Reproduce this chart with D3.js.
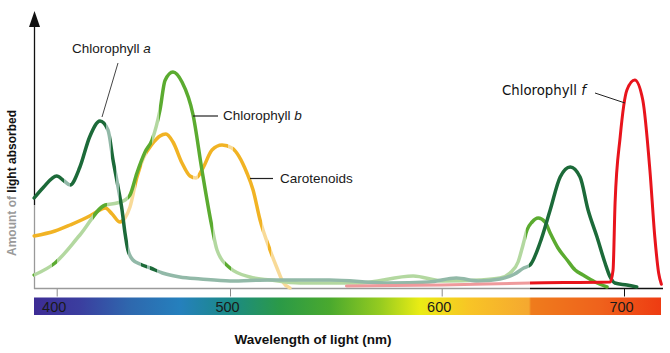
<!DOCTYPE html>
<html>
<head>
<meta charset="utf-8">
<script src="https://cdn.jsdelivr.net/npm/d3@7"></script>
<style>
  body { margin: 0; background: #fff; }
  svg { display: block; font-family: "Liberation Sans", Arial, sans-serif; }
</style>
</head>
<body>
<div id="chart"></div>
<script>
// absorbance curves: [wavelength nm, relative absorbance]
const chlA = [
  [387, 36], [392, 40], [400, 44.8], [404, 43], [407.7, 41.2], [413.4, 48.4], [419, 60.4],
  [425, 66.8], [429.6, 63.2], [432.5, 51.2], [435.4, 40.4], [437.7, 31.2], [439.4, 22],
  [441.1, 15.2], [444, 11.2], [448, 9.6], [454, 8], [461, 6], [471, 4.4], [483, 3.6],
  [500, 2.8], [519, 3.2], [547, 3.2], [575, 2], [594, 2.4], [608, 4], [620, 2.8], [632, 3.6],
  [640, 5.6], [645, 8], [648.5, 9.2], [653.9, 18], [659.5, 31.2], [665, 44.4], [670.5, 48.4],
  [675.9, 44.4], [680.3, 31.2], [685.2, 20.4], [689.6, 10], [692.4, 4.4], [695, 2],
  [701.6, 1.2], [707, 0.4]
];
const chlB = [
  [387, 5.2], [399, 10], [413.4, 21.2], [428, 33.2], [434.8, 34], [439.4, 35.2], [442.3, 37.2],
  [446.3, 46], [451, 54.4], [455, 59.2], [459.6, 71.2], [462.5, 83], [467.1, 86.4],
  [472.3, 82.4], [478.7, 69.2], [483.8, 47.2], [489.6, 24.4], [492.5, 15.2], [500, 8],
  [509.4, 4.4], [519, 3.2], [533, 2], [561, 2], [586.5, 4.8], [600.7, 2.8], [621, 3.2],
  [632, 4], [637.5, 6], [641.9, 10.4], [644.6, 17.2], [646.8, 23.2], [649.6, 26.4],
  [652.9, 28], [656.7, 26.4], [659.5, 22], [663.8, 16], [668.8, 11.2], [673.2, 7.2],
  [677.5, 5.2], [684.1, 2.4], [690.7, 0.4]
];
const carotenoids = [
  [387, 20.8], [399, 22.8], [407.7, 25.2], [419, 28.8], [425, 31.2], [428, 32], [432, 29.6],
  [436.5, 26.4], [439.4, 28], [442.3, 32.4], [446.3, 44.4], [450, 52], [455, 57.5],
  [459.6, 60.8], [463, 61.6], [467.1, 58.4], [472.3, 50], [476.9, 44.8], [480.4, 44],
  [484.4, 48], [489.6, 55.2], [495.4, 57.2], [500.9, 56], [508, 46], [510.9, 39.2],
  [514.2, 27.2], [518.9, 15.2], [522.2, 8], [525, 2.4], [528.3, 0]
];
const chlF = [
  [555, 0.8], [600, 1.2], [648.5, 2], [692.4, 2.4], [694, 7.2], [695.1, 34], [697.9, 60.4],
  [701.6, 79.2], [705.9, 83.2], [710.3, 75.2], [714.2, 47.2], [716.9, 20.4], [719, 6],
  [720.5, 1.5]
];
const tickValues = [400, 500, 600, 700];

const width = 670, height = 353;

const svg = d3.select("#chart").append("svg")
  .attr("width", width).attr("height", height);
const defs = svg.append("defs");

// the printed wavelength axis is not evenly spaced, so use a piecewise scale
const x = d3.scaleLinear()
  .domain(tickValues)
  .range([56.7, 230, 441.7, 624]);
const y = d3.scaleLinear()
  .domain([0, 100])
  .range([288, 38]);

// spectrum bar
const spectrum = [
  [34, "#3d2c95"], [80, "#3b3e9f"], [130, "#2e68ae"], [180, "#2580bd"], [230, "#1b8a86"],
  [280, "#2b9a47"], [330, "#4aa92e"], [380, "#95cb20"], [420, "#eaec14"], [470, "#f8c426"],
  [529, "#f5a830"], [531, "#ef7c1c"], [600, "#ef621c"], [661, "#ee3c12"]
];
const sg = defs.append("linearGradient").attr("id", "spec")
  .attr("gradientUnits", "userSpaceOnUse")
  .attr("x1", 34).attr("x2", 661).attr("y1", 0).attr("y2", 0);
sg.selectAll("stop").data(spectrum).join("stop")
  .attr("offset", d => (d[0] - 34) / (661 - 34))
  .attr("stop-color", d => d[1]);
svg.append("rect")
  .attr("x", 34).attr("y", 297.5).attr("width", 627).attr("height", 17.5)
  .attr("fill", "url(#spec)");

// axes
svg.append("g")
  .attr("transform", "translate(0,288.5)")
  .call(d3.axisBottom(x).tickValues(tickValues).tickSize(8).tickPadding(5))
  .call(g => g.select(".domain").remove())
  .call(g => g.selectAll(".tick line").attr("stroke", d => d < 650 ? "#8a8a8a" : "#111"))
  .call(g => g.selectAll(".tick text")
    .attr("dx", -3)
    .attr("fill", "#1a1a1a")
    .style("font-size", "14.5px")
    .style("font-family", "'Liberation Sans', Arial, sans-serif"));

svg.append("line").attr("x1", 34).attr("x2", 530).attr("y1", 288.5).attr("y2", 288.5)
  .attr("stroke", "#9a9a9a").attr("stroke-width", 1.3);
svg.append("line").attr("x1", 530).attr("x2", 663).attr("y1", 288.5).attr("y2", 288.5)
  .attr("stroke", "#111").attr("stroke-width", 1.3);
svg.append("line").attr("x1", 34.5).attr("x2", 34.5).attr("y1", 24).attr("y2", 205)
  .attr("stroke", "#111").attr("stroke-width", 1.3);
svg.append("line").attr("x1", 34.5).attr("x2", 34.5).attr("y1", 205).attr("y2", 289)
  .attr("stroke", "#999").attr("stroke-width", 1.3);
svg.append("path").attr("d", "M34.5,11 L29,27 L40,27 Z").attr("fill", "#111");

// faded stretches of each curve, given as wavelength ranges
function strokeGradient(id, base, light, ranges) {
  let stops = [[0, base]];
  ranges.forEach(([a, b]) => {
    stops.push([x(a) / width, base], [x(a) / width, light], [x(b) / width, light], [x(b) / width, base]);
  });
  stops.push([1, base]);
  defs.append("linearGradient").attr("id", id)
    .attr("gradientUnits", "userSpaceOnUse")
    .attr("x1", 0).attr("x2", width).attr("y1", 0).attr("y2", 0)
    .selectAll("stop").data(stops).join("stop")
    .attr("offset", d => d[0])
    .attr("stop-color", d => d[1]);
  return `url(#${id})`;
}

const line = d3.line()
  .x(d => x(d[0]))
  .y(d => y(d[1]))
  .curve(d3.curveMonotoneX);

const series = [
  { data: carotenoids, stroke: strokeGradient("gc", "#f1b324", "#f8da98",
      [[439, 446], [449, 452], [478.5, 481.5], [499, 501.5], [515, 518], [519.5, 535]]), w: 3.5 },
  { data: chlB, stroke: strokeGradient("gb", "#5bab30", "#b3d8a0",
      [[387, 397], [400, 421], [429, 441], [455, 459], [490, 497], [500.5, 646]]), w: 3.5 },
  { data: chlA, stroke: strokeGradient("ga", "#1c6a39", "#92b9a8",
      [[404.5, 407.5], [428.5, 431.5], [434.5, 436], [441, 448.5], [452, 454], [458, 648]]), w: 3.5 },
  { data: chlF, stroke: strokeGradient("gf", "#e8141c", "#ef9a9c", [[540, 648.5]]), w: 3 }
];

svg.selectAll(".curve").data(series).join("path")
  .attr("class", "curve")
  .attr("fill", "none")
  .attr("stroke", d => d.stroke)
  .attr("stroke-width", d => d.w)
  .attr("stroke-linecap", "round")
  .attr("stroke-linejoin", "round")
  .attr("d", d => line(d.data));

// labels
const ann = svg.append("g").attr("fill", "#1a1a1a").style("font-size", "13.5px");
ann.append("text").attr("x", 72).attr("y", 53)
  .text("Chlorophyll ").append("tspan").attr("font-style", "italic").text("a");
ann.append("line").attr("x1", 118).attr("y1", 63).attr("x2", 102).attr("y2", 117)
  .attr("stroke", "#444").attr("stroke-width", 1);
ann.append("text").attr("x", 223).attr("y", 120)
  .text("Chlorophyll ").append("tspan").attr("font-style", "italic").text("b");
ann.append("line").attr("x1", 193).attr("y1", 116).attr("x2", 218).attr("y2", 116)
  .attr("stroke", "#222").attr("stroke-width", 1.2);
ann.append("text").attr("x", 280).attr("y", 183).text("Carotenoids");
ann.append("line").attr("x1", 250).attr("y1", 178.5).attr("x2", 273).attr("y2", 178.5)
  .attr("stroke", "#222").attr("stroke-width", 1.2);
ann.append("text").attr("x", 502).attr("y", 95)
  .style("font-family", "'DejaVu Sans', Verdana, sans-serif")
  .style("font-size", "13.3px")
  .attr("fill", "#111")
  .text("Chlorophyll ").append("tspan").attr("font-style", "italic").text("f");
ann.append("line").attr("x1", 595).attr("y1", 93).attr("x2", 625).attr("y2", 103)
  .attr("stroke", "#222").attr("stroke-width", 1);

const yl = svg.append("text")
  .attr("transform", "translate(15.5,183) rotate(-90)")
  .attr("text-anchor", "middle")
  .attr("font-weight", "bold")
  .style("font-size", "12px");
yl.append("tspan").attr("fill", "#9a9a9a").text("Amount of ");
yl.append("tspan").attr("fill", "#111").text("light absorbed");

svg.append("text")
  .attr("x", 313).attr("y", 344)
  .attr("text-anchor", "middle")
  .attr("font-weight", "bold")
  .attr("fill", "#111")
  .style("font-size", "13.5px")
  .text("Wavelength of light (nm)");
</script>
</body>
</html>
